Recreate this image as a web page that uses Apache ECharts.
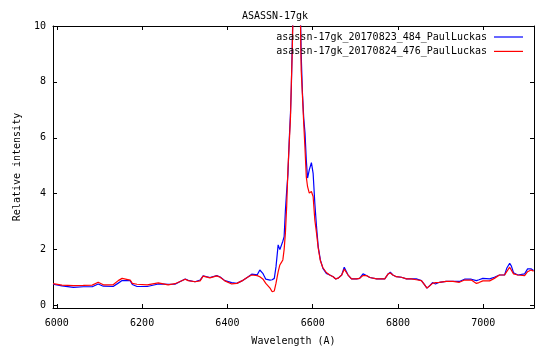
<!DOCTYPE html>
<html>
<head>
<meta charset="utf-8">
<title>ASASSN-17gk</title>
<script src="https://cdn.jsdelivr.net/npm/echarts@6.0.0/dist/echarts.min.js"></script>
<style>
  html, body { margin: 0; padding: 0; background: #fff; }
  #chart { width: 550px; height: 350px; }
</style>
</head>
<body>
<div id="chart"></div>
<script>
// Wavelength grid (Angstrom) shared by both spectra
const wavelength = [
  5991, 6012, 6039, 6062, 6083, 6097, 6109, 6132, 6144, 6153,
  6172, 6177, 6188, 6212, 6238, 6261, 6277, 6281, 6301, 6308,
  6324, 6336, 6343, 6359, 6375, 6383, 6394, 6410, 6422, 6434,
  6449, 6457, 6470, 6476, 6483, 6490, 6500, 6505, 6510, 6514,
  6519, 6523, 6527, 6530, 6533, 6536, 6539, 6542, 6545, 6548,
  6550, 6552, 6555, 6562, 6570, 6573, 6576, 6579, 6582, 6585,
  6588, 6592, 6597, 6601, 6605, 6609, 6613, 6618, 6624, 6632,
  6640, 6648, 6654, 6660, 6668, 6674, 6678, 6683, 6691, 6703,
  6710, 6718, 6726, 6734, 6750, 6769, 6777, 6782, 6788, 6796,
  6808, 6820, 6831, 6843, 6855, 6863, 6868, 6874, 6881, 6888,
  6897, 6913, 6929, 6944, 6956, 6972, 6984, 6990, 6999, 7015,
  7026, 7038, 7050, 7055, 7062, 7066, 7071, 7081, 7097, 7104,
  7112, 7118
];

// Relative intensity, 2017-08-23 spectrum
const flux0823 = [
  0.76, 0.70, 0.65, 0.67, 0.67, 0.77, 0.69, 0.68, 0.80, 0.89,
  0.89, 0.75, 0.68, 0.68, 0.77, 0.76, 0.76, 0.73, 0.95, 0.90,
  0.85, 0.91, 1.06, 1.00, 1.07, 1.02, 0.89, 0.82, 0.79, 0.88,
  1.03, 1.12, 1.10, 1.27, 1.15, 0.94, 0.91, 0.92, 0.97, 1.39,
  2.17, 2.00, 1.93, 2.30, 2.46, 3.40, 4.10, 4.70, 5.93, 6.90,
  7.84, 9.30, 11.5, 12.5, 11.5, 9.00, 7.60, 6.70, 6.17, 5.20,
  4.56, 4.85, 5.11, 4.73, 3.66, 2.82, 2.10, 1.63, 1.33, 1.15,
  1.09, 1.03, 0.95, 0.98, 1.09, 1.37, 1.35, 1.09, 0.95, 0.95,
  0.97, 1.13, 1.07, 1.00, 0.95, 0.95, 1.13, 1.19, 1.09, 1.03,
  1.01, 0.95, 0.95, 0.95, 0.89, 0.73, 0.62, 0.70, 0.82, 0.77,
  0.83, 0.86, 0.86, 0.86, 0.94, 0.94, 0.89, 0.92, 0.97, 0.95,
  1.01, 1.09, 1.09, 1.33, 1.51, 1.41, 1.17, 1.09, 1.13, 1.31,
  1.31, 1.25
];

// Relative intensity, 2017-08-24 spectrum
const flux0824 = [
  0.78, 0.73, 0.71, 0.72, 0.73, 0.83, 0.74, 0.74, 0.89, 0.97,
  0.91, 0.79, 0.76, 0.74, 0.81, 0.74, 0.78, 0.77, 0.94, 0.89,
  0.85, 0.88, 1.05, 0.99, 1.06, 1.01, 0.88, 0.77, 0.79, 0.88,
  1.03, 1.09, 1.07, 1.03, 0.95, 0.79, 0.62, 0.49, 0.52, 0.80,
  1.20, 1.45, 1.55, 1.63, 2.00, 2.59, 3.54, 4.90, 5.80, 6.76,
  8.00, 9.03, 11.3, 12.5, 11.5, 8.43, 7.50, 6.50, 5.60, 4.60,
  4.25, 4.02, 4.08, 3.90, 3.06, 2.59, 2.05, 1.60, 1.35, 1.18,
  1.09, 1.03, 0.95, 0.98, 1.09, 1.30, 1.27, 1.09, 0.95, 0.95,
  0.97, 1.07, 1.07, 1.00, 0.95, 0.95, 1.13, 1.16, 1.09, 1.03,
  1.01, 0.95, 0.95, 0.92, 0.89, 0.73, 0.62, 0.70, 0.79, 0.82,
  0.83, 0.86, 0.86, 0.83, 0.91, 0.91, 0.79, 0.82, 0.88, 0.88,
  0.97, 1.09, 1.09, 1.21, 1.37, 1.30, 1.13, 1.09, 1.07, 1.21,
  1.27, 1.23
];

const seriesNames = [
  'asassn-17gk_20170823_484_PaulLuckas',
  'asassn-17gk_20170824_476_PaulLuckas'
];

const xTicks = [6000, 6200, 6400, 6600, 6800, 7000];
const yTicks = [0, 2, 4, 6, 8, 10];

const FONT = 'DejaVu Sans Mono';
const X_MIN = 5991, X_MAX = 7119;
const Y_MIN = -0.09, Y_MAX = 10;

const toPairs = (xs, ys) => xs.map((x, i) => [x, ys[i]]);

function frameAxis(base) {
  return Object.assign({
    type: 'value',
    axisLine: { show: true, onZero: false, lineStyle: { color: '#000', width: 1 } },
    splitLine: { show: false },
    axisTick: { show: true, inside: true, length: 4, lineStyle: { color: '#000', width: 1 } },
    axisLabel: { show: false }
  }, base);
}

const chart = echarts.init(document.getElementById('chart'), null, { renderer: 'canvas' });

chart.setOption({
  backgroundColor: '#ffffff',
  animation: false,
  title: {
    text: 'ASASSN-17gk',
    left: 'center',
    top: 6,
    textStyle: { fontFamily: FONT, fontSize: 10, fontWeight: 'normal', color: '#000' }
  },
  legend: {
    data: seriesNames.map(n => ({ name: n, icon: 'rect' })),
    orient: 'vertical',
    right: 27,
    top: 31,
    padding: 0,
    align: 'right',
    itemWidth: 29,
    itemHeight: 1.2,
    itemGap: 2.4,
    textStyle: { fontFamily: FONT, fontSize: 10, color: '#000', lineHeight: 12, padding: [0, 2, 0, 0] }
  },
  grid: {
    left: 53,
    right: 16,
    top: 26,
    bottom: 42,
    containLabel: false,
    outerBoundsMode: 'none'
  },
  xAxis: [
    frameAxis({
      position: 'bottom',
      min: X_MIN,
      max: X_MAX,
      axisTick: { show: true, inside: true, length: 4, customValues: xTicks, lineStyle: { color: '#000' } },
      axisLabel: {
        show: true, customValues: xTicks, margin: 10,
        fontFamily: FONT, fontSize: 10, color: '#000',
        formatter: v => String(v)
      },
      name: 'Wavelength (A)',
      nameLocation: 'middle',
      nameGap: 28,
      nameTextStyle: { fontFamily: FONT, fontSize: 10, color: '#000' }
    }),
    frameAxis({
      position: 'top',
      min: X_MIN,
      max: X_MAX,
      axisTick: { show: true, inside: true, length: 4, customValues: xTicks, lineStyle: { color: '#000' } }
    })
  ],
  yAxis: [
    frameAxis({
      position: 'left',
      min: Y_MIN,
      max: Y_MAX,
      axisTick: { show: true, inside: true, length: 4, customValues: yTicks, lineStyle: { color: '#000' } },
      axisLabel: {
        show: true, customValues: yTicks, margin: 7,
        fontFamily: FONT, fontSize: 10, color: '#000',
        formatter: v => String(v)
      },
      name: 'Relative intensity',
      nameLocation: 'middle',
      nameGap: 31,
      nameRotate: 90,
      nameTextStyle: { fontFamily: FONT, fontSize: 10, color: '#000' }
    }),
    frameAxis({
      position: 'right',
      min: Y_MIN,
      max: Y_MAX,
      axisTick: { show: true, inside: true, length: 4, customValues: yTicks, lineStyle: { color: '#000' } }
    })
  ],
  series: [
    {
      name: seriesNames[0],
      type: 'line',
      xAxisIndex: 0,
      yAxisIndex: 0,
      data: toPairs(wavelength, flux0823),
      symbol: 'none',
      clip: true,
      color: '#0000ff',
      lineStyle: { color: '#0000ff', width: 1.2 }
    },
    {
      name: seriesNames[1],
      type: 'line',
      xAxisIndex: 0,
      yAxisIndex: 0,
      data: toPairs(wavelength, flux0824),
      symbol: 'none',
      clip: true,
      color: '#ff0000',
      lineStyle: { color: '#ff0000', width: 1.2 }
    }
  ]
});
</script>
</body>
</html>
